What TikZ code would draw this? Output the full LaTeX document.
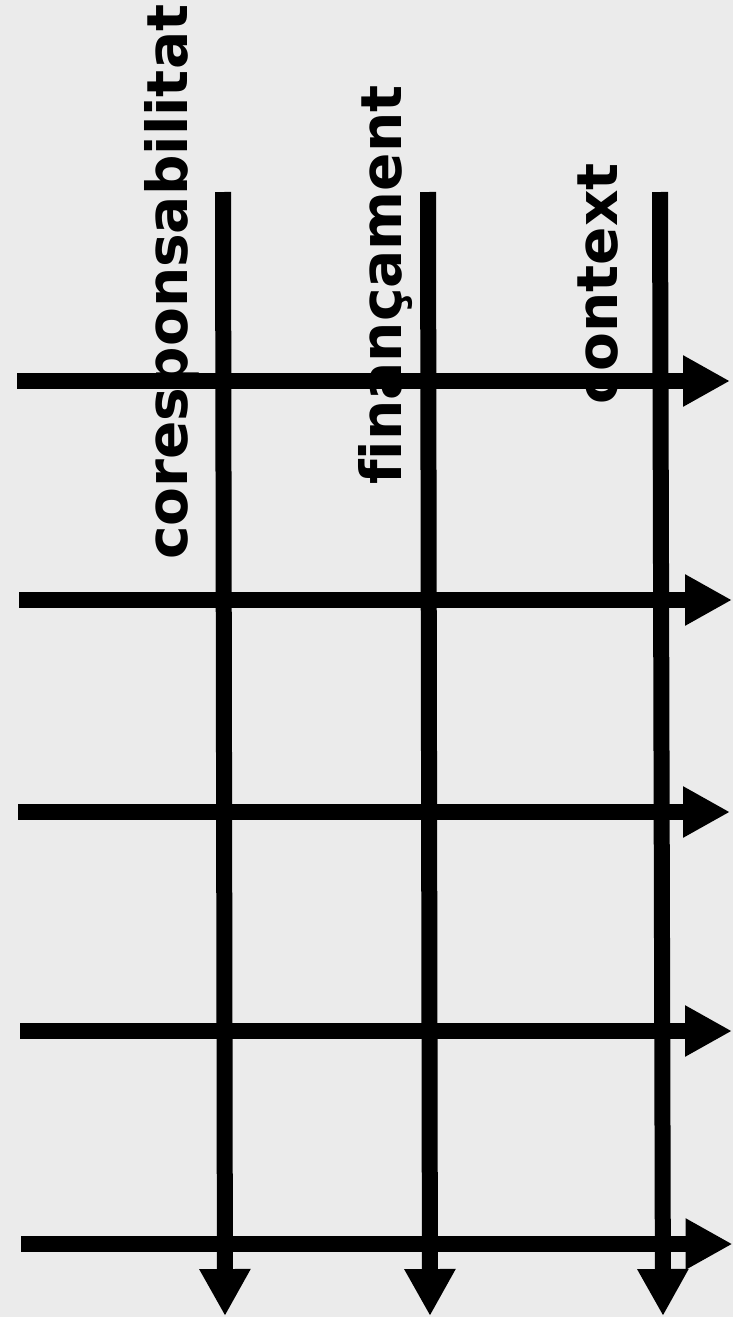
\documentclass[tikz,border=0pt]{standalone}
\usepackage{fontspec}
\newfontfamily\lblfont{DejaVu Sans}[Ligatures=CommonOff]
\usetikzlibrary{arrows.meta}
\definecolor{bgc}{RGB}{235,235,235}
\tikzset{
  axis/.style={line width=16pt, black, line cap=butt, -{Triangle[width=48pt,length=47pt]}},
  lbl/.style={inner sep=0pt, anchor=base west, rotate=90, font=\lblfont\bfseries\fontsize{56.6}{60}\selectfont}
}
\begin{document}
\begin{tikzpicture}[x=1pt,y=-1pt]
\fill[bgc] (0,0) rectangle (733,1317);
\useasboundingbox (0,0) rectangle (733,1317);
% vertical axes
\coordinate (v1s) at (223,192); \coordinate (v1e) at (225,1316);
\coordinate (v2s) at (428,192); \coordinate (v2e) at (430,1316);
\coordinate (v3s) at (660,192); \coordinate (v3e) at (663,1316);
% horizontal axes
\coordinate (h1s) at (17,381);  \coordinate (h1e) at (730,381);
\coordinate (h2s) at (19,600);  \coordinate (h2e) at (732,600);
\coordinate (h3s) at (18,812);  \coordinate (h3e) at (730,812);
\coordinate (h4s) at (20,1031); \coordinate (h4e) at (732,1031);
\coordinate (h5s) at (21,1244); \coordinate (h5e) at (732.5,1244);
\draw[axis] (v1s) -- (v1e);
\draw[axis] (v2s) -- (v2e);
\draw[axis] (v3s) -- (v3e);
\draw[axis] (h1s) -- (h1e);
\draw[axis] (h2s) -- (h2e);
\draw[axis] (h3s) -- (h3e);
\draw[axis] (h4s) -- (h4e);
\draw[axis] (h5s) -- (h5e);
\node[lbl] (t1) at (187,560) {coresponsabilitat};
\node[lbl] (t2) at (401,485) {finançament};
\node[lbl] (t3) at (617,405) {context};
\end{tikzpicture}
\end{document}
